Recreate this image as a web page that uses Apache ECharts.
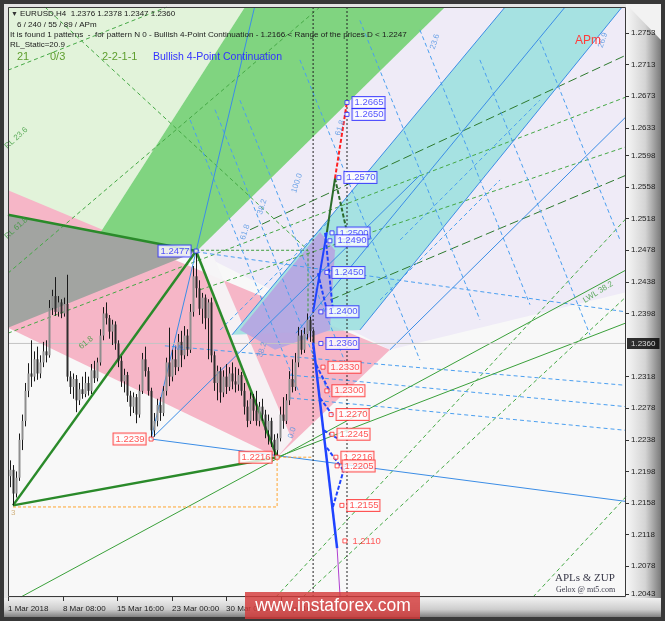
<!DOCTYPE html>
<html><head><meta charset="utf-8">
<script src="https://cdn.jsdelivr.net/npm/echarts@6/dist/echarts.min.js"></script>
<style>html,body{margin:0;padding:0;background:#383838}#c{width:665px;height:621px}</style>
</head><body><div id="c"></div>
<script>
// ---------- DATA ----------
// H4 candles [open, close, low, high]
const candles = [
[1.2192,1.2200,1.2178,1.2212],[1.2200,1.2170,1.2155,1.2206],[1.2170,1.2190,1.2165,1.2198],[1.2190,1.2238,1.2186,1.2246],
[1.2238,1.2262,1.2225,1.2270],[1.2262,1.2300,1.2255,1.2310],[1.2300,1.2322,1.2292,1.2335],[1.2322,1.2318,1.2305,1.2364],
[1.2318,1.2340,1.2312,1.2350],[1.2340,1.2322,1.2314,1.2356],[1.2322,1.2336,1.2316,1.2345],[1.2336,1.2350,1.2330,1.2362],
[1.2350,1.2345,1.2336,1.2364],[1.2345,1.2405,1.2342,1.2415],[1.2405,1.2420,1.2396,1.2428],[1.2420,1.2400,1.2395,1.2444],
[1.2400,1.2412,1.2394,1.2420],[1.2412,1.2398,1.2392,1.2416],[1.2398,1.2410,1.2394,1.2418],[1.2410,1.2318,1.2312,1.2447],
[1.2318,1.2305,1.2296,1.2325],[1.2305,1.2315,1.2290,1.2322],[1.2315,1.2288,1.2273,1.2320],[1.2288,1.2302,1.2282,1.2310],
[1.2302,1.2296,1.2290,1.2318],[1.2296,1.2310,1.2292,1.2324],[1.2310,1.2300,1.2294,1.2318],[1.2300,1.2326,1.2296,1.2334],
[1.2326,1.2316,1.2310,1.2338],[1.2316,1.2336,1.2312,1.2342],[1.2336,1.2370,1.2332,1.2378],[1.2370,1.2398,1.2364,1.2406],
[1.2398,1.2392,1.2384,1.2412],[1.2392,1.2375,1.2366,1.2396],[1.2375,1.2384,1.2358,1.2390],[1.2384,1.2360,1.2352,1.2388],
[1.2360,1.2338,1.2330,1.2364],[1.2338,1.2312,1.2305,1.2344],[1.2312,1.2320,1.2298,1.2328],[1.2320,1.2294,1.2286,1.2324],
[1.2294,1.2280,1.2268,1.2300],[1.2280,1.2292,1.2272,1.2298],[1.2292,1.2270,1.2259,1.2296],[1.2270,1.2300,1.2266,1.2308],
[1.2300,1.2340,1.2296,1.2348],[1.2340,1.2325,1.2318,1.2356],[1.2325,1.2300,1.2294,1.2330],[1.2300,1.2250,1.2239,1.2304],
[1.2250,1.2262,1.2242,1.2272],[1.2262,1.2282,1.2255,1.2290],[1.2282,1.2272,1.2262,1.2292],[1.2272,1.2300,1.2268,1.2306],
[1.2300,1.2336,1.2294,1.2342],[1.2336,1.2318,1.2306,1.2380],[1.2318,1.2340,1.2312,1.2352],[1.2340,1.2330,1.2320,1.2356],
[1.2330,1.2362,1.2325,1.2372],[1.2362,1.2345,1.2330,1.2376],[1.2345,1.2370,1.2340,1.2382],[1.2370,1.2352,1.2344,1.2378],
[1.2352,1.2400,1.2348,1.2410],[1.2400,1.2445,1.2394,1.2458],[1.2445,1.2430,1.2418,1.2477],[1.2430,1.2404,1.2396,1.2440],
[1.2404,1.2418,1.2385,1.2424],[1.2418,1.2392,1.2378,1.2422],[1.2392,1.2412,1.2340,1.2416],[1.2412,1.2345,1.2336,1.2418],
[1.2345,1.2310,1.2300,1.2350],[1.2310,1.2325,1.2288,1.2332],[1.2325,1.2298,1.2285,1.2330],[1.2298,1.2318,1.2292,1.2326],
[1.2318,1.2305,1.2296,1.2334],[1.2305,1.2322,1.2300,1.2330],[1.2322,1.2312,1.2302,1.2336],[1.2312,1.2308,1.2298,1.2330],
[1.2308,1.2320,1.2300,1.2328],[1.2320,1.2300,1.2294,1.2324],[1.2300,1.2280,1.2270,1.2310],[1.2280,1.2262,1.2254,1.2288],
[1.2262,1.2290,1.2258,1.2298],[1.2290,1.2275,1.2262,1.2296],[1.2275,1.2262,1.2256,1.2300],[1.2262,1.2280,1.2255,1.2286],
[1.2280,1.2270,1.2262,1.2290],[1.2270,1.2250,1.2240,1.2276],[1.2250,1.2262,1.2232,1.2270],[1.2262,1.2238,1.2229,1.2266],
[1.2238,1.2225,1.2218,1.2245],[1.2225,1.2240,1.2216,1.2246],[1.2240,1.2270,1.2236,1.2280],[1.2270,1.2262,1.2252,1.2292],
[1.2262,1.2288,1.2258,1.2296],[1.2288,1.2315,1.2282,1.2325],[1.2315,1.2305,1.2298,1.2340],[1.2305,1.2336,1.2300,1.2348],
[1.2336,1.2370,1.2330,1.2381],[1.2370,1.2352,1.2346,1.2377],[1.2352,1.2372,1.2348,1.2380],[1.2372,1.2390,1.2365,1.2398],
[1.2390,1.2376,1.2362,1.2394],[1.2376,1.2360,1.2347,1.2378]
];
const lastPrice = 1.2360;
const timeTickBars = [-0.7, 17.6, 35.6, 54, 72, 90.3];
const timeTickLabels = ['1 Mar 2018','8 Mar 08:00','15 Mar 16:00','23 Mar 00:00','30 Mar 08:00','6 Apr 16:00'];
const priceTicks = [1.2753,1.2713,1.2673,1.2633,1.2598,1.2558,1.2518,1.2478,1.2438,1.2398,1.2318,1.2278,1.2238,1.2198,1.2158,1.2118,1.2078,1.2043];
const xRange = [-0.7, 205.3];
const yRange = [1.2039, 1.2786];

// zones [bar, price]
const zonePaleGreen = [[-0.7,1.2786],[78.3,1.2786],[30,1.2500],[-0.7,1.2523]];
const zoneLavender = [[80,1.2786],[205.3,1.2786],[205.3,1.2425],[126.6,1.2352],[62,1.2476]];
const zonePink = [[-0.7,1.2554],[126.6,1.2352],[89,1.2216],[-0.7,1.2380]];
const zoneGap = [[62,1.2476],[67.6,1.2472],[94,1.2238],[89,1.2216]];
const zoneGray = [[-0.7,1.2523],[62,1.2476],[-0.7,1.2380]];
const zoneGreen = [[30,1.2500],[78.3,1.2786],[145,1.2786],[62,1.2476]];
const zoneCyan = [[74,1.2371],[165,1.2786],[204,1.2786],[116.6,1.2377]];
const zonePurple = [[76.6,1.2377],[103.3,1.2501],[108.3,1.2478],[106.6,1.2377],[88.3,1.2352]];

// lines [bar, price]
const patternLines = [
 [[0.97,1.2155],[62,1.2477]], [[-0.7,1.2523],[62,1.2477]],
 [[62,1.2477],[89,1.2216]], [[0.97,1.2155],[89,1.2216]]
];
const blueLines = [
 [[47,1.2239],[81.5,1.2786]], [[47,1.2239],[205.3,1.2160]], [[47,1.2239],[136.6,1.2573]],
 [[74,1.2371],[165,1.2786]], [[116.6,1.2377],[204,1.2786]], [[95.3,1.2373],[185,1.2786]],
 [[126.6,1.2352],[205.3,1.2647]]
];
const greenLines = [ [[3.6,1.2039],[205.3,1.2453]], [[89,1.2216],[205.3,1.2386]] ];
const greenDashLines = [
 [[-0.7,1.2373],[205.3,1.2672]], [[-0.7,1.2449],[103.3,1.2786]], [[-0.7,1.2706],[52.3,1.2786]],
 [[11.6,1.2786],[99.3,1.2478]], [[63.3,1.2428],[205.3,1.2609]], [[88.6,1.2039],[205.3,1.2518]],
 [[174.3,1.2039],[205.3,1.2166]], [[97.6,1.2039],[205.3,1.2419]]
];
const greenBox = [[62,1.2478],[99.3,1.2478],[99.3,1.2400]];
const darkGreenDashLines = [ [[80,1.2504],[205.3,1.2725]], [[106.7,1.2415],[205.3,1.2573]] ];
const blueDashLines = [
 [[62,1.2476],[205.3,1.2400]], [[51.6,1.2357],[205.3,1.2307]], [[93.3,1.2320],[205.3,1.2280]], [[93.3,1.2291],[205.3,1.2250]],
 [[60,1.2643],[96.6,1.2295]], [[68.3,1.2656],[106.6,1.2292]], [[76.6,1.2668],[111.6,1.2337]], [[96.6,1.2719],[136.6,1.2339]],
 [[116.6,1.2769],[156.6,1.2390]], [[136.6,1.2757],[173.3,1.2409]], [[156.6,1.2719],[193.3,1.2371]], [[176.6,1.2744],[203.3,1.2491]],
 [[70,1.2377],[106.6,1.2516]], [[123.3,1.2415],[163.3,1.2567]], [[130,1.2491],[176.6,1.2668]]
];
const orangeGuide = [[0.97,1.2153],[89,1.2153],[89,1.2216],[101,1.2216]];
const nowBars = [101, 112.3];
const projUpSolid = [[101,1.2400],[105.6,1.2501]];
const projUpDash = [ [[102.6,1.2449],[105.6,1.2402]], [[105,1.2500],[107.6,1.2402]] ];
const projGreenSolid = [[105.6,1.2501],[108.3,1.2569]];
const projGreenDash = [[108.3,1.2569],[112.3,1.2501]];
const projRedDash = [[108.3,1.2569],[112.3,1.2666]];
const projDownSolid = [[101,1.2361],[109,1.2101]];
const projDownDash = [
 [[102,1.2333],[106.6,1.2299]], [[103.3,1.2291],[107.6,1.2269]], [[104.6,1.2250],[109,1.2240]],
 [[105.6,1.2228],[111,1.2200]], [[107.6,1.2153],[111.6,1.2205]]
];
const projTail = [[109,1.2101],[110,1.2039]];

// level labels
const upTargets = [[112.3,1.2665],[112.3,1.2650],[109.6,1.2570],[107.3,1.2500],[106.6,1.2490],[105.6,1.2450],[103.6,1.2400],[103.6,1.2360]];
const downTargets = [[104.3,1.2330],[105.6,1.2300],[107,1.2270],[107.3,1.2245],[108.6,1.2216],[109,1.2205],[110.6,1.2155]];
const finalTarget = [[111.6,1.2110]];
const pivotHigh = [[62,1.2477]];
const pivotLows = [[47,1.2239],[89,1.2216]];

// small annotations
const annoText = ['RL 23.6','RL 61.8','61.8','LWL 38.2','61.8','38.2','100.0','23.6','61.8','0.0','38.2','26.9','ML','3'];
const annoPos = [[2,1.2620],[2,1.2506],[25.3,1.2361],[196,1.2425],[78.3,1.2501],[84,1.2533],[95.6,1.2563],[141.6,1.2742],[110,1.2633],[94,1.2247],[84,1.2352],[197.6,1.2744],[56.6,1.2354],[1,1.2145]];

// ---------- STYLES ----------
const annoColor = ['#3a9a3a','#3a9a3a','#3a9a3a','#3a9a3a','#4a90e2','#4a90e2','#4a90e2','#4a90e2','#4a90e2','#4a90e2','#4a90e2','#4a90e2','#4a84e0','#c8a060'];
const annoRot = [42,42,38,32,72,72,72,72,72,72,72,72,0,0];
const zones = [
 [zonePaleGreen,'#e2f3da',1],[zoneLavender,'#efebf7',1],[zonePink,'#f6b6c7',1],[zoneGap,'#f6f4f7',0.95],
 [zoneGray,'#a2a4a1',1],[zoneGreen,'#80d480',1],[zoneCyan,'#9fe1e0',0.92],[zonePurple,'#b5a7e2',0.95]
];
const FONT = '"Liberation Sans", Arial, sans-serif';

const chart = echarts.init(document.getElementById('c'));
const series = [];

series.push({
  type:'custom', z:1, silent:true, animation:false, clip:true,
  data: zones.map((z,i)=>[z[0][0][0], z[0][0][1], i]),
  encode:{x:0,y:1},
  renderItem:(params, api)=>{
    const z = zones[api.value(2)];
    return {type:'polygon', shape:{points:z[0].map(p=>api.coord(p))}, style:{fill:z[1], opacity:z[2]}};
  }
});

function addLines(list, style, z){
  list.forEach(pts=>series.push({type:'line', data:pts, symbol:'none', silent:true, animation:false, clip:true, z:z, lineStyle:style}));
}
addLines(greenDashLines, {color:'#45a845', width:1, type:[4,3]}, 2);
addLines(darkGreenDashLines, {color:'#2e7a2e', width:1, type:[9,4]}, 2);
addLines([greenBox], {color:'#3c9c3c', width:1, type:[3,2]}, 2);
addLines(blueDashLines, {color:'#4a9ff0', width:1, type:[4,3]}, 2);
addLines(blueLines, {color:'#3b8de6', width:1}, 2);
addLines(greenLines, {color:'#3aa03a', width:1}, 2);
addLines([orangeGuide], {color:'#ffa530', width:1, type:[3,2]}, 2);
addLines(nowBars.map(b=>[[b,yRange[0]],[b,yRange[1]]]), {color:'#222', width:1, type:[2,2]}, 2);
addLines(patternLines, {color:'#2a8a2a', width:2.5}, 3);

// bid line
addLines([[[xRange[0],lastPrice],[xRange[1],lastPrice]]], {color:'#c4c4c4', width:1}, 2);

// candles
series.push({
  type:'custom', z:4, silent:true, animation:false, clip:true,
  data: candles.map((c,i)=>[i,c[0],c[1],c[2],c[3]]),
  encode:{x:0, y:[1,2,3,4]},
  renderItem:(params, api)=>{
    const i=api.value(0), o=api.value(1), c=api.value(2), l=api.value(3), h=api.value(4);
    const pO=api.coord([i,o]), pC=api.coord([i,c]), pL=api.coord([i,l]), pH=api.coord([i,h]);
    const w = Math.max(1.5, api.size([1,0])[0]*0.67);
    const x = Math.round(pO[0]);
    const top=Math.min(pO[1],pC[1]), bot=Math.max(pO[1],pC[1]);
    return {type:'group', children:[
      {type:'line', shape:{x1:x+0.5,y1:pH[1],x2:x+0.5,y2:pL[1]}, style:{stroke:'#1a1a1a', lineWidth:1}},
      {type:'rect', shape:{x:x+0.5-w/2, y:top, width:w, height:Math.max(1,bot-top)}, style:{fill: c>=o?'#8e8e8e':'#2e2e2e'}}
    ]};
  }
});

// projections
addLines([projUpSolid], {color:'#1f43ff', width:2}, 5);
addLines(projUpDash, {color:'#1f43ff', width:2, type:[4,2]}, 5);
addLines([projGreenSolid], {color:'#2b6b2b', width:2}, 5);
addLines([projGreenDash], {color:'#2b6b2b', width:2, type:[4,2]}, 5);
addLines([projRedDash], {color:'#ff2020', width:2, type:[4,2]}, 5);
addLines([projDownSolid], {color:'#1f43ff', width:2.5}, 5);
addLines(projDownDash, {color:'#1f43ff', width:2, type:[4,2]}, 5);
addLines([projTail], {color:'#b040d0', width:1}, 5);

function boxLabels(pts, color, pos, boxed){
  series.push({type:'scatter', z:6, silent:true, animation:false,
    data: pts.map(p=>[p[0],p[1]]), symbol:'rect', symbolSize:4,
    itemStyle:{color:'#fff', borderColor:color, borderWidth:1},
    label:{show:true, position:pos, distance:3, formatter:p=>p.value[1].toFixed(4), color:color,
      fontSize:9.5, fontFamily:FONT, lineHeight:10,
      backgroundColor: boxed?'#fff':'transparent', borderColor: boxed?color:'transparent', borderWidth: boxed?1:0, padding:[1,1,0,2]}
  });
}
boxLabels(upTargets, '#2a2aff', 'right', true);
boxLabels(downTargets, '#ff2a2a', 'right', true);
boxLabels(finalTarget, '#ff3030', 'right', false);
boxLabels(pivotHigh, '#2a2aff', 'left', true);
boxLabels(pivotLows, '#ff2a2a', 'left', true);

// last price tag on the price scale
series.push({type:'scatter', z:20, silent:true, animation:false, clip:false,
  data:[[xRange[1], lastPrice]], symbolSize:0,
  label:{show:true, position:'right', distance:1, formatter:p=>p.value[1].toFixed(4), backgroundColor:'#000', color:'#fff',
    padding:[2,4,1,4], fontSize:8, fontFamily:FONT}
});

// annotations
series.push({type:'scatter', z:6, silent:true, animation:false,
  data: annoPos.map((p,i)=>({value:p, label:{formatter:annoText[i], color:annoColor[i], rotate:annoRot[i]}})),
  symbolSize:0,
  label:{show:true, position:'inside', fontSize:8, fontFamily:FONT}
});

const grad = (x0,y0,x1,y1,stops)=>new echarts.graphic.LinearGradient(x0,y0,x1,y1,stops.map(s=>({offset:s[0],color:s[1]})));
const txt = (t,x,y,size,color,family)=>({type:'text', x:x, y:y, z:50, silent:true,
  style:{text:t, fill:color, font: size+'px '+(family||FONT), verticalAlign:'middle', align:'left'}});

chart.setOption({
  animation:false,
  grid:{left:8, right:39, top:7, bottom:24},
  xAxis:{type:'value', min:xRange[0], max:xRange[1], axisLine:{show:false, onZero:false}, splitLine:{show:false},
    axisTick:{show:true, customValues:timeTickBars, length:4, lineStyle:{color:'#333'}},
    axisLabel:{show:true, customValues:timeTickBars, align:'left', margin:8, fontSize:8, fontFamily:FONT, color:'#222',
      formatter:v=>{const k=timeTickBars.findIndex(b=>Math.abs(b-v)<0.01); return k>=0?timeTickLabels[k]:'';}}},
  yAxis:{type:'value', position:'right', min:yRange[0], max:yRange[1], axisLine:{show:false, onZero:false}, splitLine:{show:false},
    axisTick:{show:true, customValues:priceTicks, length:3, lineStyle:{color:'#333'}},
    axisLabel:{show:true, customValues:priceTicks, hideOverlap:false, margin:5, fontSize:8, fontFamily:FONT, color:'#222', formatter:v=>v.toFixed(4)}},
  graphic:[
    {type:'rect', z:-100, silent:true, shape:{x:0,y:0,width:665,height:621}, style:{fill:'#383838'}},
    {type:'rect', z:-99, silent:true, shape:{x:4,y:4,width:657,height:613}, style:{fill:'#e4e4e4'}},
    {type:'rect', z:-98, silent:true, shape:{x:626,y:4,width:35,height:613}, style:{fill:grad(0,0,1,0,[[0,'#f6f6f6'],[0.55,'#d4d4d4'],[1,'#7a7a7a']])}},
    {type:'polygon', z:-97, silent:true, shape:{points:[[626,4],[661,4],[661,40]]}, style:{fill:'#f2f2f2'}},
    {type:'rect', z:-97, silent:true, shape:{x:4,y:598,width:657,height:19}, style:{fill:grad(0,0,0,1,[[0,'#f0f0f0'],[0.6,'#cdcdcd'],[1,'#808080']])}},
    {type:'rect', z:-96, silent:true, shape:{x:8,y:7,width:618,height:590}, style:{fill:'#f8f8f8'}},
    {type:'rect', z:40, silent:true, shape:{x:8.5,y:7.5,width:617,height:589}, style:{fill:'none', stroke:'#3a3a3a', lineWidth:1}},
    txt('▼', 11, 14, 7, '#333'),
    txt('EURUSD,H4  1.2376 1.2378 1.2347 1.2360', 20, 14, 8, '#1a1a1a'),
    txt('6 / 240 / 55 / 89 / APm', 17, 25, 8, '#1a1a1a'),
    txt('It is found 1 patterns  -  for pattern N 0 - Bullish 4-Point Continuation - 1.2166 < Range of the prices D < 1.2247', 10, 35, 8.1, '#1a1a1a'),
    txt('RL_Static=20.9', 10, 45, 8, '#1a1a1a'),
    txt('21', 17, 57, 11, '#5e9e2e'),
    txt('0/3', 50, 57, 11, '#5e9e2e'),
    txt('2-2-1-1', 102, 57, 11, '#5e9e2e'),
    txt('Bullish 4-Point Continuation', 153, 57, 10.5, '#3232ff'),
    txt('APm', 575, 41, 12, '#ff3c3c'),
    txt('APLs & ZUP', 555, 578, 11, '#3a3a4a', '"Liberation Serif", serif'),
    txt('Gelox @ mt5.com', 556, 590, 8, '#3a3a4a', '"Liberation Serif", serif'),
    {type:'rect', z:60, silent:true, shape:{x:245,y:592,width:175,height:27}, style:{fill:'rgba(212,58,58,0.82)'}},
    {type:'text', z:61, silent:true, x:333, y:606, style:{text:'www.instaforex.com', fill:'#fff', font:'17.5px '+FONT, align:'center', verticalAlign:'middle'}}
  ],
  series: series
});
</script></body></html>
